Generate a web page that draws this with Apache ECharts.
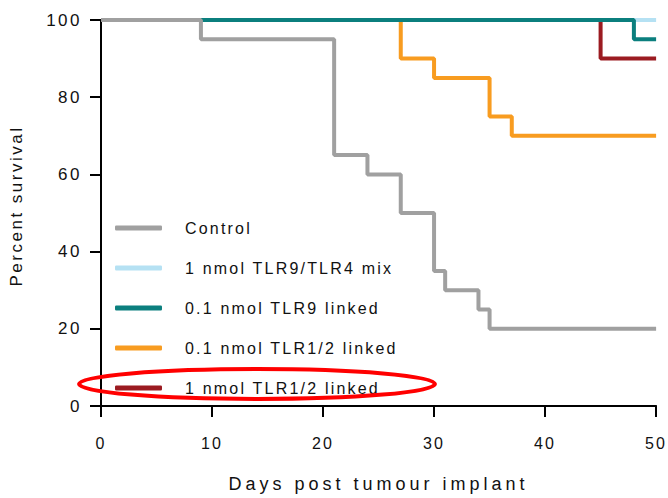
<!DOCTYPE html>
<html>
<head>
<meta charset="utf-8">
<script src="https://cdn.jsdelivr.net/npm/echarts@6/dist/echarts.min.js"></script>
<style>
  html, body { margin: 0; padding: 0; background: #fff; }
  #main { width: 668px; height: 498px; }
  /* GraphPad style wide letter spacing */
  #main text { letter-spacing: 2.2px; }
  #main text[style*="17px"] { letter-spacing: 2.5px; }
  #main text[style*="18px"] { letter-spacing: 4px; }
</style>
</head>
<body>
<div id="main"></div>
<script>
// survival data (step curves)
var seriesNames = ['Control', '1 nmol TLR9/TLR4 mix', '0.1 nmol TLR9 linked', '0.1 nmol TLR1/2 linked', '1 nmol TLR1/2 linked'];
var seriesColors = ['#a0a0a0', '#b5e1f3', '#0b7f7e', '#f89c20', '#9b1b21'];

var controlDays = [0, 9, 21, 24, 27, 30, 31, 34, 35, 50];
var controlPct  = [100, 95, 65, 60, 50, 35, 30, 25, 20, 20];

var mixDays = [0, 50];
var mixPct  = [100, 100];

var tlr9Days = [0, 48, 50];
var tlr9Pct  = [100, 95, 95];

var tlr12LowDays = [0, 27, 30, 35, 37, 50];
var tlr12LowPct  = [100, 90, 85, 75, 70, 70];

var tlr12HighDays = [0, 45, 50];
var tlr12HighPct  = [100, 90, 90];

var xTicks = [0, 10, 20, 30, 40, 50];
var yTicks = [0, 20, 40, 60, 80, 100];

function pairs(days, pct) {
    var out = [];
    for (var i = 0; i < days.length; i++) {
        out.push([days[i], pct[i]]);
    }
    return out;
}

var allData = [
    pairs(controlDays, controlPct),
    pairs(mixDays, mixPct),
    pairs(tlr9Days, tlr9Pct),
    pairs(tlr12LowDays, tlr12LowPct),
    pairs(tlr12HighDays, tlr12HighPct)
];
// drawing order: control on top, then TLR9 over the mix
var zOrder = [6, 4, 5, 2, 3];

var series = [];
for (var i = 0; i < seriesNames.length; i++) {
    series.push({
        name: seriesNames[i],
        type: 'line',
        step: 'end',
        symbol: 'none',
        z: zOrder[i],
        lineStyle: { color: seriesColors[i], width: 4 },
        itemStyle: { color: seriesColors[i] },
        data: allData[i]
    });
}

var textFont = 'Liberation Sans, Arial, sans-serif';

var myChart = echarts.init(document.getElementById('main'), null, { renderer: 'svg' });

var option = {
    animation: false,
    grid: { left: 99, right: 11, top: 20, bottom: 89, containLabel: false },
    legend: {
        data: seriesNames,
        orient: 'vertical',
        left: 115,
        top: 219,
        padding: 0,
        icon: 'roundRect',
        itemWidth: 47,
        itemHeight: 5,
        itemGap: 22,
        textStyle: {
            fontFamily: textFont,
            fontSize: 16,
            color: '#111',
            padding: [2, 0, 0, 18],
            lineHeight: 16
        }
    },
    xAxis: {
        type: 'value',
        min: 0,
        max: 50,
        interval: 10,
        name: 'Days post tumour implant',
        nameLocation: 'middle',
        nameGap: 69,
        nameTextStyle: { fontFamily: textFont, fontSize: 18, color: '#111' },
        axisLine: { lineStyle: { color: '#000', width: 2 } },
        axisTick: { inside: false, length: 11, lineStyle: { color: '#000', width: 2 } },
        axisLabel: {
            margin: 29,
            fontFamily: textFont,
            fontSize: 16,
            color: '#111',
            formatter: function (v) { return xTicks.indexOf(v) >= 0 ? String(v) : ''; }
        },
        splitLine: { show: false }
    },
    yAxis: {
        type: 'value',
        min: 0,
        max: 100,
        interval: 20,
        name: 'Percent survival',
        nameLocation: 'middle',
        nameRotate: 90,
        nameGap: 76,
        nameTextStyle: { fontFamily: textFont, fontSize: 17, color: '#111', padding: [0, 0, 0, 14] },
        axisLine: { show: true, lineStyle: { color: '#000', width: 2 } },
        axisTick: { show: true, inside: false, length: 11, lineStyle: { color: '#000', width: 2 } },
        axisLabel: {
            margin: 19,
            fontFamily: textFont,
            fontSize: 17,
            color: '#111',
            formatter: function (v) { return yTicks.indexOf(v) >= 0 ? String(v) : ''; }
        },
        splitLine: { show: false }
    },
    // red ring drawn round the last legend entry
    graphic: [{
        type: 'ellipse',
        z: 100,
        shape: { cx: 257, cy: 384, rx: 178, ry: 15 },
        style: { fill: 'none', stroke: '#ff0000', lineWidth: 4 }
    }],
    series: series
};

myChart.setOption(option);
</script>
</body>
</html>
